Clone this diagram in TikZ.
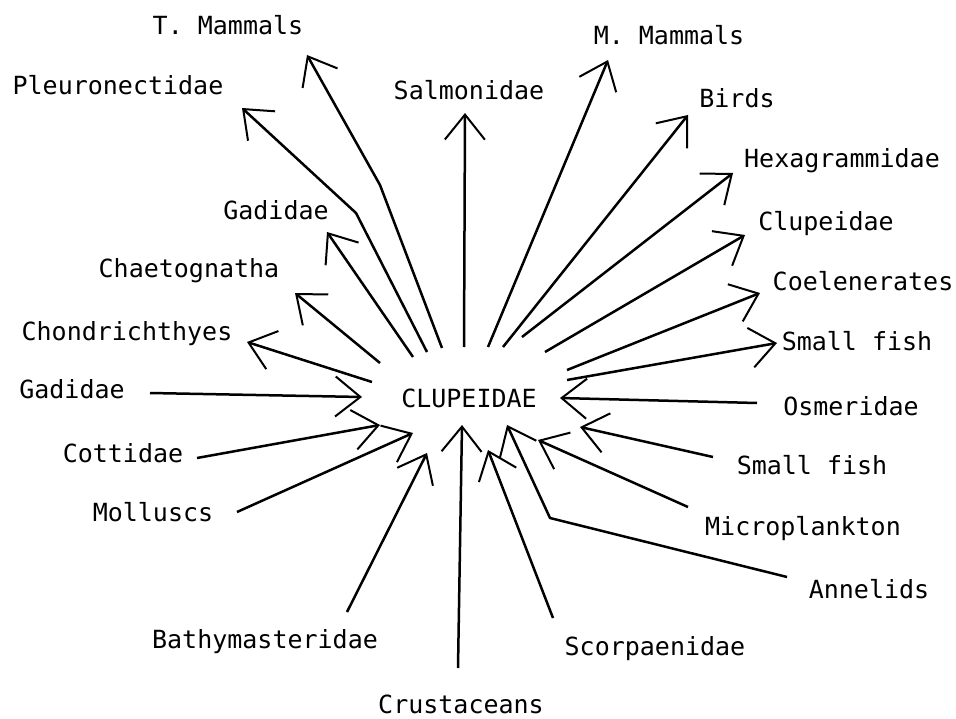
\documentclass[tikz,border=0pt]{standalone}
\usepackage{fontspec}
\setmonofont{DejaVu Sans Mono}
\usetikzlibrary{arrows.meta}

\begin{document}
\begin{tikzpicture}[
  x=1pt, y=-1pt,
  taxon/.style={font=\ttfamily\fontsize{25}{30}\selectfont, anchor=base, inner sep=0pt},
  flow/.style={line width=2.5pt, line join=round, -{Straight Barb[length=25pt, width=40pt, line width=2pt]}}
]
  \useasboundingbox (0, 0) rectangle (956, 719);

  % Familia central
  \node[taxon] (clup) at (469, 407) {CLUPEIDAE};

  % Depredadores (arriba)
  \node[taxon] (tmam) at (228, 35) {T. Mammals};
  \node[taxon] (pleu) at (118, 95) {Pleuronectidae};
  \node[taxon] (salm) at (469, 100) {Salmonidae};
  \node[taxon] (gadA) at (276, 220) {Gadidae};
  \node[taxon] (chae) at (189, 278) {Chaetognatha};
  \node[taxon] (chon) at (127, 341) {Chondrichthyes};
  \node[taxon] (mmam) at (669, 45) {M. Mammals};
  \node[taxon] (bird) at (737, 108) {Birds};
  \node[taxon] (hexa) at (842, 168) {Hexagrammidae};
  \node[taxon] (clupB) at (826, 231) {Clupeidae};
  \node[taxon] (coel) at (863, 291) {Coelenerates};
  \node[taxon] (fishA) at (857, 350) {Small fish};

  % Presas (abajo)
  \node[taxon] (osme) at (851, 415) {Osmeridae};
  \node[taxon] (fishB) at (812, 474) {Small fish};
  \node[taxon] (micr) at (803, 535) {Microplankton};
  \node[taxon] (anne) at (869, 598) {Annelids};
  \node[taxon] (scor) at (655, 655) {Scorpaenidae};
  \node[taxon] (crus) at (461, 713) {Crustaceans};
  \node[taxon] (bath) at (265, 648) {Bathymasteridae};
  \node[taxon] (moll) at (153, 521) {Molluscs};
  \node[taxon] (cott) at (123, 462) {Cottidae};
  \node[taxon] (gadB) at (72, 399) {Gadidae};

  % Extremos de las flechas hacia fuera
  \coordinate (tmam_s) at (442, 348);
  \coordinate (tmam_k) at (380, 185);
  \coordinate (tmam_t) at (307, 55);
  \coordinate (pleu_s) at (427, 352);
  \coordinate (pleu_k) at (356, 213);
  \coordinate (pleu_t) at (242, 108);
  \coordinate (salm_s) at (464, 347);
  \coordinate (salm_t) at (465, 113);
  \coordinate (gadA_s) at (413, 357);
  \coordinate (gadA_t) at (327, 232);
  \coordinate (chae_s) at (380, 363);
  \coordinate (chae_t) at (295, 293);
  \coordinate (chon_s) at (372, 382);
  \coordinate (chon_t) at (247, 342);
  \coordinate (mmam_s) at (488, 347);
  \coordinate (mmam_t) at (608, 60);
  \coordinate (bird_s) at (503, 347);
  \coordinate (bird_t) at (688, 115);
  \coordinate (hexa_s) at (522, 337);
  \coordinate (hexa_t) at (733, 173);
  \coordinate (clupB_s) at (545, 352);
  \coordinate (clupB_t) at (745, 235);
  \coordinate (coel_s) at (567, 370);
  \coordinate (coel_t) at (760, 293);
  \coordinate (fishA_s) at (567, 380);
  \coordinate (fishA_t) at (777, 343);

  % Extremos de las flechas hacia dentro
  \coordinate (osme_s) at (757, 403);
  \coordinate (osme_t) at (560, 398);
  \coordinate (fishB_s) at (713, 457);
  \coordinate (fishB_t) at (580, 427);
  \coordinate (micr_s) at (688, 507);
  \coordinate (micr_t) at (538, 440);
  \coordinate (anne_s) at (787, 577);
  \coordinate (anne_k) at (550, 518);
  \coordinate (anne_t) at (507, 425);
  \coordinate (scor_s) at (553, 618);
  \coordinate (scor_t) at (488, 450);
  \coordinate (crus_s) at (458, 668);
  \coordinate (crus_t) at (462, 425);
  \coordinate (bath_s) at (347, 612);
  \coordinate (bath_t) at (427, 453);
  \coordinate (moll_s) at (237, 512);
  \coordinate (moll_t) at (413, 433);
  \coordinate (cott_s) at (197, 458);
  \coordinate (cott_t) at (380, 425);
  \coordinate (gadB_s) at (150, 393);
  \coordinate (gadB_t) at (362, 397);

  % Flechas: Clupeidae como presa
  \draw[flow] (tmam_s) -- (tmam_k) -- (tmam_t);
  \draw[flow] (pleu_s) -- (pleu_k) -- (pleu_t);
  \draw[flow] (salm_s) -- (salm_t);
  \draw[flow] (gadA_s) -- (gadA_t);
  \draw[flow] (chae_s) -- (chae_t);
  \draw[flow] (chon_s) -- (chon_t);
  \draw[flow] (mmam_s) -- (mmam_t);
  \draw[flow] (bird_s) -- (bird_t);
  \draw[flow] (hexa_s) -- (hexa_t);
  \draw[flow] (clupB_s) -- (clupB_t);
  \draw[flow] (coel_s) -- (coel_t);
  \draw[flow] (fishA_s) -- (fishA_t);

  % Flechas: alimento de Clupeidae
  \draw[flow] (osme_s) -- (osme_t);
  \draw[flow] (fishB_s) -- (fishB_t);
  \draw[flow] (micr_s) -- (micr_t);
  \draw[flow] (anne_s) -- (anne_k) -- (anne_t);
  \draw[flow] (scor_s) -- (scor_t);
  \draw[flow] (crus_s) -- (crus_t);
  \draw[flow] (bath_s) -- (bath_t);
  \draw[flow] (moll_s) -- (moll_t);
  \draw[flow] (cott_s) -- (cott_t);
  \draw[flow] (gadB_s) -- (gadB_t);

\end{tikzpicture}
\end{document}
